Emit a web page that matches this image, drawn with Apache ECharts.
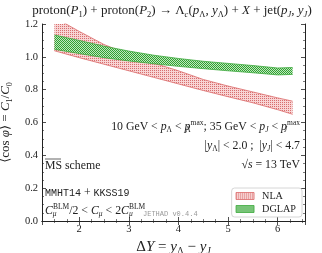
<!DOCTYPE html>
<html>
<head>
<meta charset="utf-8">
<script src="https://cdn.jsdelivr.net/npm/echarts@6/dist/echarts.min.js"></script>
<style>html,body{margin:0;padding:0;background:#fff}#c{width:322px;height:253px}</style>
</head>
<body>
<div id="c"></div>
<script>
// ---- data ----
const deltaY   = [1.5, 2.0, 2.5, 3.0, 3.5, 4.0, 4.5, 5.0, 5.5, 6.0, 6.3];
const nlaLow   = [1.037, 0.995, 0.955, 0.915, 0.875, 0.835, 0.795, 0.757, 0.720, 0.678, 0.650];
const nlaHigh  = [1.240, 1.155, 1.075, 1.015, 0.962, 0.915, 0.862, 0.822, 0.786, 0.750, 0.730];
const dglapLow = [1.046, 1.020, 0.995, 0.975, 0.958, 0.942, 0.928, 0.915, 0.903, 0.890, 0.893];
const dglapHigh= [1.133, 1.100, 1.065, 1.035, 1.010, 0.990, 0.973, 0.960, 0.947, 0.932, 0.935];
const yTicks = {min: 0, max: 1.2, step: 0.2};
const xRange = {min: 1.25, max: 6.55};

const SERIF = '"Liberation Serif", "DejaVu Serif", serif';
const MONO = '"Liberation Mono", "DejaVu Sans Mono", monospace';

function pattern(bg, fg, kind) {
  const c = document.createElement('canvas');
  c.width = 2; c.height = 2;
  const g = c.getContext('2d');
  g.fillStyle = bg; g.fillRect(0, 0, 2, 2);
  g.fillStyle = fg;
  if (kind === 'dot') { g.fillRect(0, 0, 1, 1); }
  else { g.fillRect(0, 0, 1, 1); g.fillRect(1, 1, 1, 1); }
  return c;
}
const redEdge = 'rgb(220,105,105)';
const greenEdge = 'rgb(60,170,60)';
const redPat = pattern('rgb(248,212,212)', 'rgb(215,110,110)', 'dot');
const greenPat = pattern('rgb(190,232,190)', 'rgb(50,160,50)', 'check');
const redFill = {image: redPat, repeat: 'repeat'};
const greenFill = {image: greenPat, repeat: 'repeat'};

const pairs = (xs, ys) => xs.map((x, i) => [x, ys[i]]);

function bandSeries(name, lo, hi, edge, pat, z) {
  const rows = deltaY.map((x, i) => [x, lo[i], hi[i]]);
  return [
    {name: name, type: 'custom', data: rows, encode: {x: 0, y: [1, 2]}, clip: true, silent: true, z: z,
     itemStyle: {color: edge},
     renderItem: function (params, api) {
       if (params.dataIndex !== 0) return null;
       const top = deltaY.map((x, i) => api.coord([x, hi[i]]));
       const bot = deltaY.map((x, i) => api.coord([x, lo[i]])).reverse();
       const cs = params.coordSys;
       return {type: 'polygon', shape: {points: top.concat(bot)},
         style: {fill: {image: pat, repeat: 'repeat'}, stroke: null},
         clipPath: {type: 'rect', shape: {x: cs.x, y: cs.y, width: cs.width, height: cs.height}}};
     }},
    {name: name + '_lo', type: 'line', data: pairs(deltaY, lo), symbol: 'none', silent: true, z: z,
     lineStyle: {color: edge, width: 0.8}, itemStyle: {color: edge}},
    {name: name + '_hi', type: 'line', data: pairs(deltaY, hi), symbol: 'none', silent: true, z: z,
     lineStyle: {color: edge, width: 0.8}, itemStyle: {color: edge}}
  ];
}

const C = '#222';
const rich = {
  r: {fontFamily: SERIF, fontSize: 11.8, lineHeight: 15, color: C},
  i: {fontFamily: SERIF, fontSize: 11.8, lineHeight: 15, fontStyle: 'italic', color: C},
  s: {fontFamily: SERIF, fontSize: 7.5, lineHeight: 8, verticalAlign: 'bottom', color: C},
  si: {fontFamily: SERIF, fontSize: 7.5, lineHeight: 8, verticalAlign: 'bottom', fontStyle: 'italic', color: C},
  z: {fontFamily: SERIF, fontSize: 7.5, lineHeight: 8, verticalAlign: 'bottom', color: C, width: 0.1},
  zi: {fontFamily: SERIF, fontSize: 7.5, lineHeight: 8, verticalAlign: 'bottom', fontStyle: 'italic', color: C, width: 0.1},
  u: {fontFamily: SERIF, fontSize: 7.5, lineHeight: 8, verticalAlign: 'top', color: C},
  m: {fontFamily: MONO, fontSize: 10, lineHeight: 15, color: C},
  R: {fontFamily: SERIF, fontSize: 13, lineHeight: 16, color: C},
  I: {fontFamily: SERIF, fontSize: 13, lineHeight: 16, fontStyle: 'italic', color: C},
  S: {fontFamily: SERIF, fontSize: 8.5, lineHeight: 9, verticalAlign: 'bottom', color: C},
  SI: {fontFamily: SERIF, fontSize: 8.5, lineHeight: 9, verticalAlign: 'bottom', fontStyle: 'italic', color: C}
};
function txt(x, y, text, align) {
  return {type: 'text', x: x, y: y, silent: true, z: 10,
    style: {text: text, rich: rich, textAlign: align, textVerticalAlign: 'middle', fontFamily: SERIF, fontSize: 11, fill: C}};
}

const axisCommon = {
  axisLine: {lineStyle: {color: C, width: 1}},
  axisTick: {inside: true, length: 4, lineStyle: {color: C, width: 0.8}},
  minorTick: {show: true, splitNumber: 4, length: 2, lineStyle: {color: C, width: 0.6}},
  splitLine: {show: false}
};

const chart = echarts.init(document.getElementById('c'), null, {renderer: 'canvas'});
chart.setOption({
  animation: false,
  backgroundColor: '#fff',
  grid: {left: 42, right: 17, top: 24, bottom: 32, containLabel: false, outerBoundsMode: 'none'},
  xAxis: [
    Object.assign({type: 'value', position: 'bottom', min: xRange.min, max: xRange.max, splitNumber: 5, minInterval: 1, maxInterval: 1,
      axisLabel: {showMinLabel: false, showMaxLabel: false, fontFamily: SERIF, fontSize: 10.5, color: C, margin: 3},
      name: '{r|Δ}{i|Y}{r| = }{i|y}{s|Λ}{r| − }{i|y}{si|J}', nameLocation: 'middle', nameGap: 18,
      nameTextStyle: {rich: {
        r: {fontFamily: SERIF, fontSize: 15, lineHeight: 17, color: C},
        i: {fontFamily: SERIF, fontSize: 15, lineHeight: 17, fontStyle: 'italic', color: C},
        s: {fontFamily: SERIF, fontSize: 9.5, lineHeight: 10, verticalAlign: 'bottom', color: C},
        si: {fontFamily: SERIF, fontSize: 9.5, lineHeight: 10, verticalAlign: 'bottom', fontStyle: 'italic', color: C}}}
    }, axisCommon),
    Object.assign({type: 'value', position: 'top', min: xRange.min, max: xRange.max, splitNumber: 5, minInterval: 1, maxInterval: 1,
      axisLabel: {show: false}}, axisCommon)
  ],
  yAxis: [
    Object.assign({type: 'value', position: 'left', min: yTicks.min, max: yTicks.max, interval: yTicks.step,
      axisLabel: {formatter: v => v.toFixed(1), fontFamily: SERIF, fontSize: 10.5, color: C, margin: 4},
      name: '{r|⟨cos }{i|φ}{r|⟩ = }{i|C}{s|1}{r|/}{i|C}{s|0}', nameLocation: 'middle', nameGap: 22, nameRotate: 90,
      nameTextStyle: {rich: {
        r: {fontFamily: SERIF, fontSize: 13, lineHeight: 16, color: C},
        i: {fontFamily: SERIF, fontSize: 13, lineHeight: 16, fontStyle: 'italic', color: C},
        s: {fontFamily: SERIF, fontSize: 8, lineHeight: 9, verticalAlign: 'bottom', color: C}}}
    }, axisCommon),
    Object.assign({type: 'value', position: 'right', min: yTicks.min, max: yTicks.max, interval: yTicks.step,
      axisLabel: {show: false}}, axisCommon)
  ],
  legend: {
    orient: 'vertical', right: 20, top: 188, padding: [3, 6, 3, 4], itemGap: 3,
    itemWidth: 18, itemHeight: 7, borderColor: '#ccc', borderWidth: 0.8, borderRadius: 3,
    backgroundColor: 'rgba(255,255,255,0.85)',
    textStyle: {fontFamily: SERIF, fontSize: 10.2, color: C, padding: [0, 0, 0, 3]},
    selectedMode: false,
    data: [
      {name: 'NLA', icon: 'rect', itemStyle: {color: redFill, borderColor: redEdge, borderWidth: 0.8}},
      {name: 'DGLAP', icon: 'rect', itemStyle: {color: greenFill, borderColor: greenEdge, borderWidth: 0.8}}
    ]
  },
  series: [].concat(
    bandSeries('NLA', nlaLow, nlaHigh, redEdge, redPat, 2),
    bandSeries('DGLAP', dglapLow, dglapHigh, greenEdge, greenPat, 3)
  ),
  graphic: [
    txt(172, 11, '{R|proton(}{I|P}{S|1}{R|) + proton(}{I|P}{S|2}{R|) → Λ}{SI|c}{R|(}{I|p}{S|Λ}{R|, }{I|y}{S|Λ}{R|) + }{I|X}{R| + jet(}{I|p}{SI|J}{R|, }{I|y}{SI|J}{R|)}', 'center'),
    txt(300, 127, '{r|10 GeV < }{i|p}{s|Λ}{r| < }{i|p}{z|Λ}{u|max}{r|; 35 GeV < }{i|p}{si|J}{r| < }{i|p}{zi|J}{u|max}', 'right'),
    txt(300, 146, '{r||}{i|y}{s|Λ}{r|| < 2.0 ;  |}{i|y}{si|J}{r|| < 4.7}', 'right'),
    txt(300, 165, '{r|√}{i|s}{r| = 13 TeV}', 'right'),
    txt(45, 166, '{r|MS scheme}', 'left'),
    {type: 'line', silent: true, z: 10, shape: {x1: 45, y1: 159, x2: 61, y2: 159}, style: {stroke: C, lineWidth: 0.7}},
    txt(45, 193, '{m|MMHT14}{r| + }{m|KKSS19}', 'left'),
    txt(45, 211, '{i|C}{zi|μ}{u|BLM}{r|/2 < }{i|C}{si|μ}{r| < 2}{i|C}{zi|μ}{u|BLM}', 'left'),
    {type: 'text', x: 143, y: 214, silent: true, z: 10,
     style: {text: 'JETHAD v0.4.4', textAlign: 'left', textVerticalAlign: 'middle', fontFamily: MONO, fontSize: 7, fill: '#999'}}
  ]
});
</script>
</body>
</html>
